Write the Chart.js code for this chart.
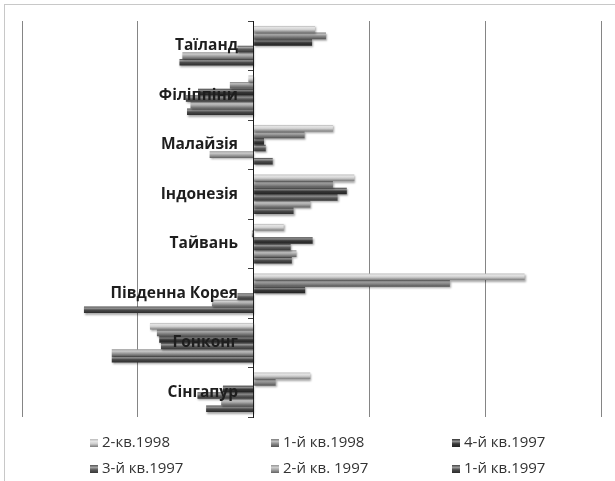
<!DOCTYPE html>
<html>
<head>
<meta charset="utf-8">
<script src="https://cdn.jsdelivr.net/npm/chart.js@4/dist/chart.umd.min.js"></script>
<style>
  html, body { margin: 0; padding: 0; background: #fff; }
  #wrap { position: relative; width: 615px; height: 481px; overflow: hidden; }
  #frame { position: absolute; left: 4px; top: 4px; width: 640px; height: 520px; border: 1px solid #c8c8c8; }
  #my-chart { position: absolute; left: 0; top: 0; }
  .leg { position: absolute; font: 15px "Open Sans", sans-serif; color: #333; white-space: nowrap; line-height: 16px; }
  .leg i { display: inline-block; width: 8px; height: 8px; margin-right: 4px; vertical-align: 0px; }
</style>
</head>
<body>
<div id="wrap">
  <div id="frame"></div>
  <canvas id="my-chart" width="615" height="481"></canvas>
  <div id="legenda"></div>
</div>
<script>
const paises = ["Таїланд", "Філіппіни", "Малайзія", "Індонезія", "Тайвань", "Південна Корея", "Гонконг", "Сінгапур"];
const trimestres = ["2-кв.1998", "1-й кв.1998", "4-й кв.1997", "3-й кв.1997", "2-й кв. 1997", "1-й кв.1997"];

const kv2_1998 = [10.6, -0.9, 13.7, 17.4, 5.2, 46.8, -17.9, 9.8];
const kv1_1998 = [12.5, -4.1, 8.8, 13.7, -0.3, 33.9, -16.7, 3.8];
const kv4_1997 = [10.1, -9.6, 1.8, 16.1, 10.2, 8.9, -16.3, -5.3];
const kv3_1997 = [-2.8, -11.7, 2.1, 14.5, 6.4, -2.8, -16.0, -9.7];
const kv2_1997 = [-12.3, -10.9, -7.6, 9.8, 7.4, -7.2, -24.5, -5.6];
const kv1_1997 = [-12.8, -11.5, 3.3, 6.9, 6.6, -29.3, -24.5, -8.2];

const series = [kv2_1998, kv1_1998, kv4_1997, kv3_1997, kv2_1997, kv1_1997];
const colores = ["#cfcfcf", "#8a8a8a", "#383838", "#5a5a5a", "#a4a4a4", "#4a4a4a"];

const catPct = 0.8;

function aclarar(hex, f) {
  const n = parseInt(hex.slice(1), 16);
  let r = (n >> 16) & 255, g = (n >> 8) & 255, b = n & 255;
  const m = (c) => Math.round(f >= 0 ? c + (255 - c) * f : c * (1 + f));
  return `rgb(${m(r)}, ${m(g)}, ${m(b)})`;
}

function degradado(ctx, y0, y1, base) {
  const gr = ctx.createLinearGradient(0, y0, 0, y1);
  gr.addColorStop(0, aclarar(base, -0.1));
  gr.addColorStop(0.25, aclarar(base, 0.45));
  gr.addColorStop(0.55, base);
  gr.addColorStop(1, aclarar(base, -0.4));
  return gr;
}

function colorBarra(context) {
  const chart = context.chart;
  const base = colores[context.datasetIndex];
  const ys = chart.scales.y;
  if (!ys || !ys.height) return base;
  const banda = ys.height / paises.length;
  const grosor = (banda * catPct) / series.length;
  const centro = ys.getPixelForValue(context.dataIndex);
  const top = centro - (banda * catPct) / 2 + context.datasetIndex * grosor;
  return degradado(chart.ctx, top, top + grosor, base);
}

const sombra = {
  id: "sombra",
  beforeDatasetsDraw(chart) {
    const ctx = chart.ctx;
    ctx.save();
    ctx.shadowColor = "rgba(0, 0, 0, 0.35)";
    ctx.shadowOffsetX = 1;
    ctx.shadowOffsetY = 1.5;
    ctx.shadowBlur = 2;
  },
  afterDatasetsDraw(chart) {
    chart.ctx.restore();
  },
};

const datasets = series.map((data, i) => ({
  label: trimestres[i],
  data,
  backgroundColor: colorBarra,
  borderWidth: 0,
  categoryPercentage: catPct,
  barPercentage: 1,
}));

const sinAncho = (scale) => { scale.width = 0; };

const config = {
  type: "bar",
  data: { labels: paises, datasets },
  plugins: [sombra],
  options: {
    indexAxis: "y",
    responsive: false,
    animation: false,
    layout: { padding: { left: 22, right: 14, top: 21, bottom: 64 } },
    plugins: { legend: { display: false }, tooltip: { enabled: false } },
    scales: {
      x: {
        type: "linear",
        min: -40,
        max: 60,
        ticks: { display: false, stepSize: 20 },
        grid: { color: "#858585", lineWidth: 1, drawTicks: false },
        border: { display: false },
      },
      // etiquetas de los países, un poco a la izquierda del eje, encima de las barras
      y: {
        position: { x: -2.7 },
        afterFit: sinAncho,
        grid: { display: false },
        border: { display: false },
        ticks: {
          z: 1,
          color: "#1e1e1e",
          font: { family: "Open Sans", size: 15.5, weight: "bold" },
        },
      },
      // línea del eje en cero con sus marcas
      y2: {
        type: "category",
        labels: paises,
        position: { x: 0 },
        offset: true,
        afterFit: sinAncho,
        grid: { drawOnChartArea: false, tickLength: 5, color: "#404040", offset: true },
        border: { display: true, color: "#1a1a1a", width: 1 },
        ticks: { display: false },
      },
    },
  },
};

new Chart(document.getElementById("my-chart"), config);

const legenda = document.getElementById("legenda");
trimestres.forEach((nombre, i) => {
  const item = document.createElement("div");
  item.className = "leg";
  item.style.left = 90 + (i % 3) * 181 + "px";
  item.style.top = 433 + Math.floor(i / 3) * 26 + "px";
  const c = colores[i];
  item.innerHTML = `<i style="background: linear-gradient(${aclarar(c, -0.1)}, ${aclarar(c, 0.45)} 30%, ${c} 60%, ${aclarar(c, -0.4)})"></i>${nombre}`;
  legenda.appendChild(item);
});
</script>
</body>
</html>
